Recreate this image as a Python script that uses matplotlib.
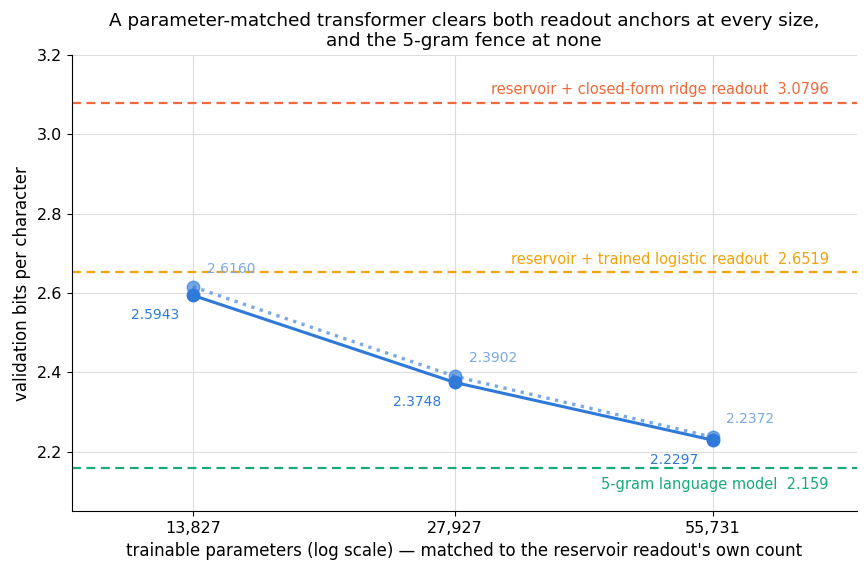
import matplotlib
matplotlib.use("Agg")
import matplotlib.pyplot as plt
from matplotlib.ticker import FixedLocator, NullLocator

params = [13827, 27927, 55731]
param_labels = ["13,827", "27,927", "55,731"]
solid_bpc = [2.5943, 2.3748, 2.2297]
dotted_bpc = [2.6160, 2.3902, 2.2372]

ref_names = ["reservoir + closed-form ridge readout", "reservoir + trained logistic readout", "5-gram language model"]
ref_values = [3.0796, 2.6519, 2.159]
ref_texts = ["3.0796", "2.6519", "2.159"]
ref_colors = ["#ee6a3c", "#f0a30a", "#1aaa78"]

c_solid = "#2f7ad9"
c_dot = "#7aa9e6"

fig, ax = plt.subplots(figsize=(8.67, 5.76), dpi=100)
fig.subplots_adjust(left=0.083, right=0.988, top=0.905, bottom=0.112)

ax.set_xscale("log")
ax.set_xlim(10000, 82000)
ax.set_ylim(2.05, 3.2)

ax.grid(True, color="#dddddd", linewidth=0.8)
ax.set_axisbelow(True)

for name, v, t, c in zip(ref_names, ref_values, ref_texts, ref_colors):
    ax.axhline(v, color=c, linestyle="--", linewidth=1.6, dashes=(4, 2.5), zorder=2)
    if v < 2.3:
        ax.annotate(f"{name}  {t}", xy=(1, v), xycoords=("axes fraction", "data"),
                    xytext=(-20, -6), textcoords="offset points", ha="right", va="top",
                    color=c, fontsize=10.5)
    else:
        ax.annotate(f"{name}  {t}", xy=(1, v), xycoords=("axes fraction", "data"),
                    xytext=(-20, 4), textcoords="offset points", ha="right", va="bottom",
                    color=c, fontsize=10.5)

ax.plot(params, dotted_bpc, linestyle=":", color=c_dot, linewidth=2.4, zorder=3)
ax.plot(params, dotted_bpc, linestyle="none", marker="o", markersize=9,
        markerfacecolor=c_solid, markeredgecolor=c_solid, alpha=0.65, zorder=3)
ax.plot(params, solid_bpc, linestyle="-", color=c_solid, linewidth=2.2, marker="o",
        markersize=9, zorder=4)

for x, y in zip(params, dotted_bpc):
    ax.annotate(f"{y:.4f}", xy=(x, y), xytext=(10, 8), textcoords="offset points",
                ha="left", va="bottom", color=c_dot, fontsize=10)
for x, y in zip(params, solid_bpc):
    ax.annotate(f"{y:.4f}", xy=(x, y), xytext=(-10, -9), textcoords="offset points",
                ha="right", va="top", color=c_solid, fontsize=10)

ax.xaxis.set_major_locator(FixedLocator(params))
ax.xaxis.set_minor_locator(NullLocator())
ax.set_xticklabels(param_labels, fontsize=11.5)
ax.set_yticks([2.2, 2.4, 2.6, 2.8, 3.0, 3.2])
ax.tick_params(axis="y", labelsize=11.5)

ax.spines["top"].set_visible(False)
ax.spines["right"].set_visible(False)

ax.set_xlabel("trainable parameters (log scale) \u2014 matched to the reservoir readout's own count", fontsize=12)
ax.set_ylabel("validation bits per character", fontsize=12)
ax.set_title("A parameter-matched transformer clears both readout anchors at every size,\nand the 5-gram fence at none", fontsize=13.2)

fig.savefig("out.png", dpi=100)
